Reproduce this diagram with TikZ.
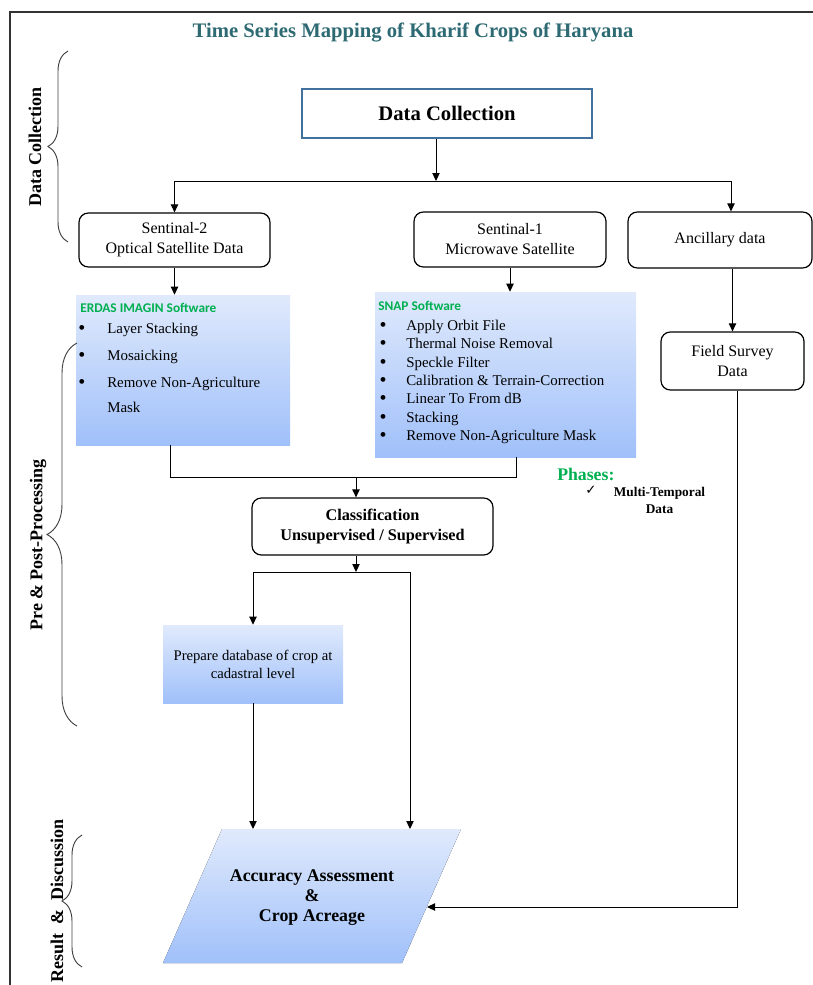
\documentclass[tikz,border=0pt]{standalone}
\usepackage{fontspec}
\setmainfont{Liberation Serif}
\newfontfamily\calib{Carlito}
\newfontfamily\dejavu{DejaVu Sans}
\usetikzlibrary{arrows.meta,decorations.pathreplacing,calc}
\definecolor{titlecol}{RGB}{46,106,115}
\definecolor{dcblue}{RGB}{65,113,156}
\definecolor{grntxt}{RGB}{0,176,80}
\definecolor{gtop}{RGB}{224,234,252}
\definecolor{gbot}{RGB}{160,192,250}
\begin{document}
\begin{tikzpicture}[x=0.75pt,y=-0.75pt,
 rbox/.style={draw=black, line width=0.9pt, rounded corners=7pt, align=center, inner sep=0pt, font=\fontsize{12}{15}\selectfont},
 gbox/.style={top color=gtop, bottom color=gbot, draw=none, inner sep=0pt},
 arr/.style={line width=0.75pt, -{Triangle[length=6pt,width=5.5pt]}},
 ln/.style={line width=0.75pt},
 brc/.style={decorate, decoration={brace, amplitude=#1}, line width=0.7pt, draw=black!75},
 side/.style={rotate=90, font=\fontsize{13.5}{16}\selectfont\bfseries},
 bul/.style={anchor=base, inner sep=0pt, font=\fontsize{15}{15}\selectfont},
 itm/.style={anchor=base west, inner sep=0pt, font=\fontsize{11.2}{13}\selectfont},
 swtitle/.style={anchor=west, inner sep=0pt, font=\calib\fontsize{10}{12}\selectfont\bfseries, text=grntxt},
 ]
\useasboundingbox (0,0) rectangle (813,985);
% frame
\draw[line width=1.2pt, black!80] (10,990) -- (10,12) -- (820,12);
% title
\node[font=\fontsize{15.5}{18}\selectfont\bfseries, text=titlecol] (title) at (413,33) {Time Series Mapping of Kharif Crops of Haryana};

% boxes
\node[draw=dcblue, line width=1.6pt, minimum width=217.5pt, minimum height=36.75pt, font=\fontsize{15.5}{18}\selectfont\bfseries] (dc) at (447,113.5) {Data Collection};
\node[rbox, minimum width=143.25pt, minimum height=40.5pt] (s2) at (174.5,240) {Sentinal-2\\Optical Satellite Data};
\node[rbox, minimum width=144pt, minimum height=41.25pt] (s1) at (510,239.5) {Sentinal-1\\Microwave Satellite};
\node[rbox, minimum width=138pt, minimum height=42pt] (anc) at (720,240) {Ancillary data};
\node[rbox, minimum width=107.25pt, minimum height=43.5pt] (fs) at (732.5,361) {Field Survey\\Data};
\node[gbox, minimum width=160.5pt, minimum height=112.5pt] (erdas) at (183,370) {};
\node[gbox, minimum width=195.75pt, minimum height=123.75pt] (snap) at (505.5,374.5) {};
\node[rbox, minimum width=180.75pt, minimum height=42.75pt, font=\fontsize{12.2}{14.5}\selectfont\bfseries] (cls) at (372.5,526.5) {Classification\\Unsupervised / Supervised};
\node[gbox, minimum width=135pt, minimum height=58.5pt, align=center, font=\fontsize{11}{13.5}\selectfont] (prep) at (253,664) {Prepare database of crop at\\cadastral level};
\fill[top color=gtop, bottom color=gbot] (222,829) -- (461,829) -- (402,963) -- (163,963) -- cycle;
\node[font=\fontsize{13.4}{15}\selectfont\bfseries, align=center] (acct) at (312,898) {Accuracy Assessment\\\&\\Crop Acreage};
\coordinate (acc1) at (252,829);
\coordinate (acc2) at (410,829);
\coordinate (acc3) at (427,907);

% ERDAS content
\node[swtitle] (et) at (80,308) {ERDAS IMAGIN Software};
\foreach \t/\y [count=\i] in {Layer Stacking/333, Mosaicking/360, Remove Non-Agriculture/387} {
  \node[bul] (eb\i) at (82,\y+1) {\textbullet};
  \node[itm] (ei\i) at (107,\y) {\t};
}
\node[itm] (ei4) at (107,412) {Mask};

% SNAP content
\node[swtitle] (st) at (378,306) {SNAP Software};
\foreach \t/\y [count=\i] in {Apply Orbit File/330, Thermal Noise Removal/348, Speckle Filter/367, Calibration \& Terrain-Correction/385, Linear To From dB/403, Stacking/422, Remove Non-Agriculture Mask/440} {
  \node[bul] (sb\i) at (383,\y+1) {\textbullet};
  \node[itm] (si\i) at (406,\y) {\t};
}

% phases
\node[anchor=west, inner sep=0pt, font=\fontsize{13.3}{15}\selectfont\bfseries, text=grntxt] (ph) at (557,474) {Phases:};
\node[font=\dejavu\fontsize{10}{12}\selectfont] (chk) at (591,490) {✓};
\node[align=center, font=\fontsize{10}{12.75}\selectfont\bfseries] (mt) at (659.5,500) {Multi-Temporal\\Data};

% connectors
\coordinate (j1) at (436,181);
\draw[arr] (dc.south -| j1) -- (j1);
\draw[arr] (j1) -| (s2.north);
\draw[arr] (j1) -| ($(anc.north)+(11,0)$);
\draw[arr] (s2.south) -- (s2.south |- erdas.north);
\draw[arr] (s1.south) -- (s1.south |- snap.north);
\coordinate (j2) at (356,477);
\draw[ln] ($(erdas.south)+(-13,0)$) |- (j2);
\draw[ln] ($(snap.south)+(10.5,0)$) |- (j2);
\draw[arr] (j2) -- (cls.north -| j2);
\coordinate (j3) at (356,572);
\draw[arr] (cls.south -| j3) -- (j3);
\draw[arr] (j3) -| (prep.north);
\draw[arr] (j3) -| (acc2);
\draw[arr] (prep.south) -- (prep.south |- acc1);
\draw[arr] (fs.north |- anc.south) -- (fs.north);
\draw[arr] ($(fs.south)+(5,0)$) |- (acc3);

% side labels and braces
\node[side] (l1) at (35,147) {Data Collection};
\node[side] (l2) at (38,545) {Pre \& Post-Processing};
\node[side] (l3) at (57,901) {Result \ \& \ Discussion};
\draw[brc=15pt] (68,242) -- (68,51);
\draw[brc=22.5pt] (77,726) -- (77,343);
\draw[brc=15pt] (82,967) -- (82,835);
\end{tikzpicture}
\end{document}
